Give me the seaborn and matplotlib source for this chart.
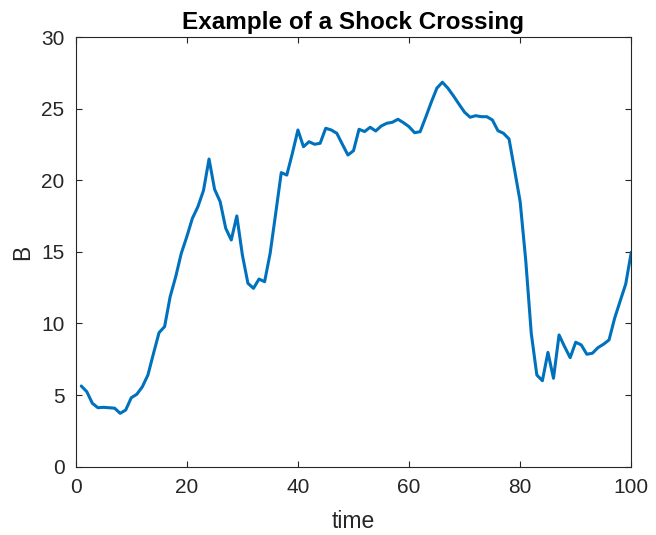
import matplotlib
matplotlib.use("Agg")
import matplotlib.pyplot as plt
import numpy as np
import pandas as pd
import seaborn as sns

# Magnetic field magnitude sampled once per time step
time = list(range(1, 101))
field_b = [
    5.63, 5.23, 4.42, 4.11, 4.14, 4.11, 4.08, 3.72, 3.95, 4.81,
    5.05, 5.58, 6.40, 7.90, 9.36, 9.78, 11.87, 13.27, 14.90, 16.07,
    17.35, 18.17, 19.30, 21.50, 19.38, 18.52, 16.66, 15.84, 17.52, 14.79,
    12.81, 12.46, 13.11, 12.92, 14.91, 17.70, 20.55, 20.38, 21.90, 23.53,
    22.36, 22.71, 22.53, 22.60, 23.65, 23.53, 23.30, 22.53, 21.78, 22.08,
    23.58, 23.42, 23.72, 23.46, 23.81, 24.00, 24.07, 24.28, 24.04, 23.76,
    23.34, 23.41, 24.42, 25.47, 26.45, 26.87, 26.45, 25.91, 25.33, 24.77,
    24.42, 24.53, 24.46, 24.46, 24.23, 23.48, 23.30, 22.90, 20.73, 18.52,
    14.44, 9.31, 6.40, 6.00, 7.98, 6.17, 9.20, 8.38, 7.61, 8.69,
    8.50, 7.85, 7.92, 8.31, 8.55, 8.85, 10.36, 11.57, 12.76, 14.98,
]
x_ticks = [0, 20, 40, 60, 80, 100]
y_ticks = [0, 5, 10, 15, 20, 25, 30]

df = pd.DataFrame({"time": time, "B": field_b})

sns.set_theme(style="white")
plt.rcParams["font.family"] = ["Liberation Sans", "DejaVu Sans"]

fig = plt.figure(figsize=(6.56, 5.35), dpi=100)
ax = fig.add_axes([0.1154, 0.128, 0.8469, 0.802])

sns.lineplot(data=df, x="time", y="B", ax=ax, color="#0072BD", linewidth=2.2)

ax.set_xlim(0, 100)
ax.set_ylim(0, 30)
ax.set_xticks(x_ticks)
ax.set_yticks(y_ticks)

axis_color = "#262626"
for spine in ax.spines.values():
    spine.set_visible(True)
    spine.set_color(axis_color)
    spine.set_linewidth(0.8)

ax.tick_params(axis="both", which="major", direction="in", length=4.5, width=0.8,
               color=axis_color, labelcolor=axis_color, labelsize=15,
               top=True, right=True, bottom=True, left=True)
ax.tick_params(axis="x", pad=8.5)
ax.tick_params(axis="y", pad=8)

ax.set_xlabel("time", fontsize=16.5, color=axis_color, labelpad=9)
ax.set_ylabel("B", fontsize=16.5, color=axis_color, labelpad=5)
ax.set_title("Example of a Shock Crossing", fontsize=17.5, fontweight="bold",
             color="black", pad=6)

fig.savefig("out.png", dpi=100)
